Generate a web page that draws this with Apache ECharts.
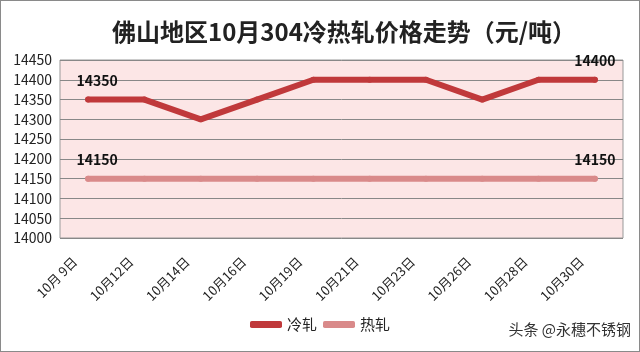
<!DOCTYPE html>
<html lang="zh">
<head>
<meta charset="UTF-8">
<script src="https://cdn.jsdelivr.net/npm/echarts@6/dist/echarts.min.js"></script>
<style>
    body { margin: 0; padding: 0; background: #fff; }
    #main { width: 638px; height: 350px; border: 1px solid #8a8a8a; }
    .mark { position: absolute; right: 9px; bottom: 13px; font: 15px "Noto Sans CJK SC"; color: #333; }
</style>
</head>
<body>
<div id="main"></div>
<div class="mark">头条 @永穗不锈钢</div>
<script>
    var days = ['10月 9日', '10月12日', '10月14日', '10月16日', '10月19日', '10月21日', '10月23日', '10月26日', '10月28日', '10月30日'];
    var coldRolled = [14350, 14350, 14300, 14350, 14400, 14400, 14400, 14350, 14400, 14400];
    var hotRolled = [14150, 14150, 14150, 14150, 14150, 14150, 14150, 14150, 14150, 14150];

    // 只在首尾点显示标签
    function withEndLabels(values) {
        return values.map(function (v, i) {
            var first = i === 0, last = i === values.length - 1;
            return {
                value: v,
                label: { show: first || last, offset: [first ? 9 : 0, 0] }
            };
        });
    }

    function lineSeries(name, data, color) {
        return {
            name: name,
            type: 'line',
            data: withEndLabels(data),
            symbol: 'circle',
            symbolSize: 6,
            showSymbol: true,
            itemStyle: { color: color },
            lineStyle: { color: color, width: 6, cap: 'round', join: 'round' },
            label: {
                position: 'top',
                distance: 9,
                fontSize: 14,
                fontWeight: 'bold',
                color: '#111'
            }
        };
    }

    var myChart = echarts.init(document.getElementById('main'));
    var option = {
        animation: false,
        textStyle: { fontFamily: '"Noto Sans CJK SC", sans-serif' },
        title: {
            text: '佛山地区10月304冷热轧价格走势（元/吨）',
            left: 106,
            top: 14,
            textStyle: { fontSize: 24, fontWeight: 'bold', color: '#222' }
        },
        legend: {
            bottom: 14,
            left: 'center',
            itemWidth: 32,
            itemHeight: 7,
            itemGap: 6,
            icon: 'roundRect',
            textStyle: { fontSize: 15, color: '#222' },
            data: ['冷轧', '热轧']
        },
        grid: {
            left: 59,
            right: 16,
            top: 59,
            bottom: 113,
            show: true,
            backgroundColor: '#fce6e6',
            borderColor: '#999',
            borderWidth: 1
        },
        xAxis: {
            type: 'category',
            data: days,
            axisLine: { show: false },
            axisTick: { show: false },
            axisLabel: { rotate: 45, fontSize: 13, color: '#222', margin: 8, padding: [0, 19, 0, 0] }
        },
        yAxis: {
            type: 'value',
            min: 14000,
            max: 14450,
            interval: 50,
            axisLine: { show: false },
            axisTick: { show: false },
            axisLabel: { fontSize: 14, color: '#222', margin: 8, formatter: function (v) { return String(v); } },
            splitLine: { lineStyle: { color: '#888', width: 1 } }
        },
        series: [
            lineSeries('冷轧', coldRolled, '#c0393b'),
            lineSeries('热轧', hotRolled, '#d98a8a')
        ]
    };
    myChart.setOption(option);
</script>
</body>
</html>
